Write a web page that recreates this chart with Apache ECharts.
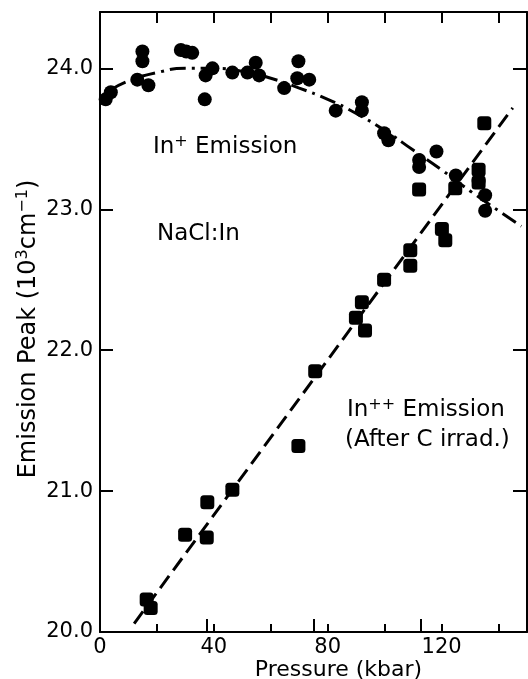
<!DOCTYPE html>
<html>
<head>
<meta charset="utf-8">
<script src="https://cdn.jsdelivr.net/npm/echarts@6/dist/echarts.min.js"></script>
<style>
html,body{margin:0;padding:0;background:#fff;}
#chart{width:528px;height:679px;}
</style>
</head>
<body>
<div id="chart"></div>
<script>
// In+ emission (circles): [pressure kbar, peak 10^3 cm^-1]
var inPlusPoints = [
  [2.0,23.78],[3.8,23.83],[13.1,23.92],[14.9,24.12],[14.9,24.05],[17.0,23.88],
  [28.4,24.13],[30.3,24.12],[32.4,24.11],[36.8,23.78],[37.1,23.95],[39.5,24.00],
  [46.5,23.97],[51.8,23.97],[54.7,24.04],[55.9,23.95],[64.7,23.86],[69.3,23.93],
  [69.7,24.05],[73.5,23.92],[82.8,23.70],[92.0,23.76],[92.0,23.70],[99.8,23.54],
  [101.3,23.49],[112.1,23.35],[112.1,23.30],[118.2,23.41],[125.0,23.24],[133.0,23.20],
  [135.3,23.10],[135.3,22.99]
];
// In++ emission after C irradiation (squares)
var inPlusPlusPoints = [
  [135.0,23.61],[133.0,23.28],[133.0,23.19],[124.8,23.15],[112.1,23.14],[120.1,22.86],
  [121.3,22.78],[109.0,22.71],[109.0,22.60],[99.8,22.50],[92.0,22.34],[89.9,22.23],
  [93.1,22.14],[75.6,21.85],[69.7,21.32],[46.5,21.01],[37.7,20.92],[29.9,20.69],
  [37.5,20.67],[16.4,20.23],[17.8,20.17]
];
// dash-dot curve through In+ points
var inPlusCurve = [
  [4,23.85],[10,23.91],[20,23.97],[30,24.00],[40,24.00],[50,23.98],[60,23.93],
  [70,23.86],[80,23.78],[90,23.68],[100,23.56],[110,23.42],[120,23.28],[130,23.13],[148,22.88]
];
// dashed straight line through In++ points
var inPlusPlusLine = [[12,20.06],[145,23.72]];

var xTickLabels = [0,40,80,120];
var yTickLabels = ['20.0','21.0','22.0','23.0','24.0'];

var FONT = 'DejaVu Sans';
var GRID_W = 427, GRID_H = 620;
var chart = echarts.init(document.getElementById('chart'));
function rich(size){
  return {
    a:{fontFamily:FONT,fontSize:size,color:'#000',lineHeight:size+4},
    s:{fontFamily:FONT,fontSize:Math.round(size*0.68),color:'#000',lineHeight:Math.round(size*0.68),verticalAlign:'top'}
  };
}
function txt(left, y, text){
  return {type:'text', left:left, top:y-13, z:100,
    style:{text:text, rich:rich(23), fontFamily:FONT, fontSize:23, fill:'#000'}};
}
var tickLine = {color:'#000', width:2};
function xTicks(pos, offset, interval, max, len){
  return {type:'value', min:0, max:max, interval:interval, position:pos, offset:offset,
    axisLine:{show:false, onZero:false}, axisLabel:{show:false}, splitLine:{show:false},
    axisTick:{show:true, inside:false, length:len, lineStyle:tickLine}};
}
function yTicks(pos, offset, len){
  return {type:'value', min:20, max:24.4, interval:1, position:pos, offset:offset,
    axisLine:{show:false, onZero:false}, axisLabel:{show:false}, splitLine:{show:false},
    axisTick:{show:true, inside:false, length:len, lineStyle:tickLine}};
}
chart.setOption({
  animation:false,
  backgroundColor:'#fff',
  grid:{left:100, right:1, top:12, bottom:47, containLabel:false, outerBoundsMode:'none'},
  xAxis:[{
    type:'value', min:0, max:150, interval:20, position:'bottom',
    axisLine:{show:true, onZero:false, lineStyle:{color:'#000', width:2}},
    axisTick:{show:false},
    axisLabel:{show:true, margin:5, color:'#000', fontFamily:FONT, fontSize:21,
      formatter:function(v){ return xTickLabels.indexOf(v)>=0 ? String(v) : ''; }},
    splitLine:{show:false},
    name:'Pressure (kbar)', nameLocation:'middle', nameGap:27, nameMoveOverlap:false,
    nameTextStyle:{color:'#000', fontFamily:FONT, fontSize:22, padding:[0,0,0,50]}
  },{
    type:'value', min:0, max:150, position:'top',
    axisLine:{show:true, onZero:false, lineStyle:{color:'#000', width:2}}, axisLabel:{show:false},
    splitLine:{show:false}, axisTick:{show:false}
  },
    // bottom edge, ticks pointing up into the plot
    xTicks('top', -GRID_H, 20, 150, 8),
    xTicks('top', -GRID_H, 40, 160, 13),
    // top edge, ticks pointing down into the plot
    xTicks('bottom', -GRID_H, 20, 150, 11)
  ],
  yAxis:[{
    type:'value', min:20, max:24.4, interval:1, position:'left',
    axisLine:{show:true, onZero:false, lineStyle:{color:'#000', width:2}},
    axisTick:{show:false},
    axisLabel:{show:true, margin:7, color:'#000', fontFamily:FONT, fontSize:21,
      formatter:function(v){ var s=v.toFixed(1); return yTickLabels.indexOf(s)>=0 ? s : ''; }},
    splitLine:{show:false},
    name:'{a|Emission Peak (10}{s|3}{a|cm}{s|−1}{a|)}', nameLocation:'middle', nameGap:57,
    nameMoveOverlap:false,
    nameTextStyle:{color:'#000', fontFamily:FONT, fontSize:24, padding:[0,14,0,0], rich:rich(24)}
  },{
    type:'value', min:20, max:24.4, position:'right',
    axisLine:{show:true, onZero:false, lineStyle:{color:'#000', width:2}}, axisLabel:{show:false},
    splitLine:{show:false}, axisTick:{show:false}
  },
    // left edge, ticks pointing right
    yTicks('right', -GRID_W, 13),
    // right edge, ticks pointing left
    yTicks('left', -GRID_W, 14)
  ],
  graphic:[
    txt(153,147,'{a|In}{s|+}{a| Emission}'),
    txt(157,236,'{a|NaCl:In}'),
    txt(347,410,'{a|In}{s|++}{a| Emission}'),
    txt(345,442,'{a|(After C irrad.)}')
  ],
  series:[
    {type:'line', data:inPlusCurve, smooth:true, showSymbol:false, symbol:'none',
     lineStyle:{color:'#000', width:3, type:[16,6,3,6]}, z:2},
    {type:'line', data:inPlusPlusLine, showSymbol:false, symbol:'none',
     lineStyle:{color:'#000', width:3, type:[15,7]}, z:2},
    {type:'scatter', data:inPlusPoints, symbol:'circle', symbolSize:14,
     itemStyle:{color:'#000', opacity:1}, z:3},
    {type:'scatter', data:inPlusPlusPoints, symbol:'roundRect', symbolSize:14,
     itemStyle:{color:'#000', opacity:1}, z:3}
  ]
});
</script>
</body>
</html>
